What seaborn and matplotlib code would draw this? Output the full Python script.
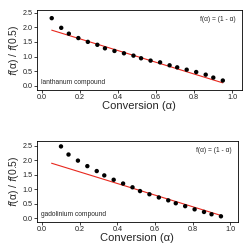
import matplotlib
matplotlib.use("Agg")
import matplotlib.pyplot as plt
import seaborn as sns
import pandas as pd

# Data
conv_la = [0.05, 0.10, 0.14, 0.19, 0.24, 0.29, 0.33, 0.38, 0.43, 0.48,
           0.52, 0.57, 0.62, 0.67, 0.71, 0.76, 0.81, 0.86, 0.90, 0.95]
ratio_la = [2.31, 1.98, 1.78, 1.63, 1.50, 1.40, 1.28, 1.19, 1.11, 1.03,
            0.94, 0.86, 0.80, 0.70, 0.63, 0.55, 0.47, 0.38, 0.28, 0.18]
conv_gd = [0.10, 0.14, 0.19, 0.24, 0.29, 0.33, 0.38, 0.43, 0.48,
           0.52, 0.57, 0.62, 0.67, 0.71, 0.76, 0.81, 0.86, 0.90, 0.95]
ratio_gd = [2.48, 2.20, 1.99, 1.80, 1.63, 1.48, 1.33, 1.20, 1.07,
            0.94, 0.83, 0.72, 0.62, 0.52, 0.42, 0.31, 0.22, 0.14, 0.07]
model_x = [0.05, 0.95]
model_y = [1.90, 0.10]
labels = ["lanthanum compound", "gadolinium compound"]
model_text = "f(α) = (1 - α)"
xticks = [0.0, 0.2, 0.4, 0.6, 0.8, 1.0]
yticks = [0.0, 0.5, 1.0, 1.5, 2.0, 2.5]

sns.set_style("ticks")
plt.rcParams['font.family'] = ['Liberation Sans', 'DejaVu Sans']

fig = plt.figure(figsize=(2.46, 2.49), dpi=100)
ax1 = fig.add_axes([0.150, 0.639, 0.833, 0.321])
ax2 = fig.add_axes([0.150, 0.108, 0.817, 0.325])

panels = [
    (ax1, conv_la, ratio_la, labels[0], (-0.028, 1.05), (-0.14, 2.59)),
    (ax2, conv_gd, ratio_gd, labels[1], (-0.028, 1.04), (-0.13, 2.66)),
]
for ax, cx, cy, lab, xl, yl in panels:
    dfm = pd.DataFrame({"x": model_x, "y": model_y})
    sns.lineplot(data=dfm, x="x", y="y", ax=ax, color="#e8281e", lw=0.8)
    dfd = pd.DataFrame({"x": cx, "y": cy})
    sns.scatterplot(data=dfd, x="x", y="y", ax=ax, color="black", s=10,
                    edgecolor="none", zorder=3)
    ax.set_xlim(*xl)
    ax.set_ylim(*yl)
    ax.set_xticks(xticks)
    ax.set_yticks(yticks)
    ax.set_xticklabels([f"{v:.1f}" for v in xticks])
    ax.set_yticklabels([f"{v:.1f}" for v in yticks])
    ax.tick_params(labelsize=5.2, length=2, width=0.6, pad=1, colors="#222222")
    for s in ax.spines.values():
        s.set_visible(True)
        s.set_linewidth(0.6)
        s.set_color("black")
    ax.set_xlabel("Conversion (α)", fontsize=8, labelpad=0)
    ax.set_ylabel("$f$(α) / $f$(0.5)", fontsize=7.5, labelpad=1)
    ax.text(0.02, 0.05, lab, transform=ax.transAxes, fontsize=4.8,
            ha="left", va="bottom")
    ax.text(0.97, 0.93, model_text, transform=ax.transAxes, fontsize=4.8,
            ha="right", va="top")

fig.savefig("out.png", dpi=100)
